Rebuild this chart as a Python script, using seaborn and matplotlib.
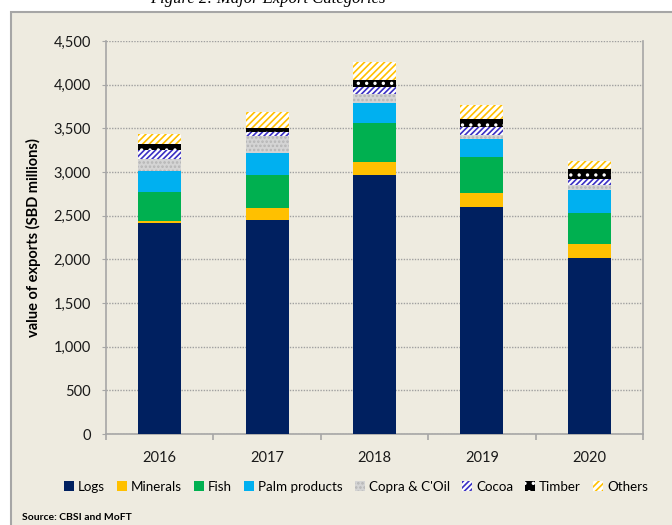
import matplotlib
matplotlib.use("Agg")
import matplotlib.pyplot as plt
from matplotlib.patches import Patch, Rectangle
from matplotlib.ticker import FuncFormatter, MultipleLocator, FixedLocator
import seaborn as sns
import pandas as pd
import numpy as np

years = ["2016", "2017", "2018", "2019", "2020"]
categories = ["Logs", "Minerals", "Fish", "Palm products", "Copra & C'Oil", "Cocoa", "Timber", "Others"]
logs = [2415, 2450, 2960, 2600, 2020]
minerals = [25, 140, 155, 165, 155]
fish = [330, 380, 445, 410, 360]
palm = [240, 250, 235, 200, 260]
copra = [140, 190, 100, 50, 60]
cocoa = [100, 50, 75, 95, 65]
timber = [70, 45, 85, 90, 115]
others = [120, 180, 210, 155, 90]

series = [logs, minerals, fish, palm, copra, cocoa, timber, others]

styles = {
    "Logs": dict(facecolor="#002060", edgecolor="#002060", hatch=None),
    "Minerals": dict(facecolor="#FFC000", edgecolor="#FFC000", hatch=None),
    "Fish": dict(facecolor="#00B050", edgecolor="#00B050", hatch=None),
    "Palm products": dict(facecolor="#00B0F0", edgecolor="#00B0F0", hatch=None),
    "Copra & C'Oil": dict(facecolor="#D4D4D4", edgecolor="#B5B5B5", hatch="...."),
    "Cocoa": dict(facecolor="white", edgecolor="#3A2FC4", hatch="//////"),
    "Timber": dict(facecolor="black", edgecolor="white", hatch=".."),
    "Others": dict(facecolor="white", edgecolor="#FFC000", hatch="/////"),
}

plt.rcParams["font.family"] = ["Lato", "DejaVu Sans"]
plt.rcParams["hatch.linewidth"] = 1.2

bg = "#EEEBE0"
fig = plt.figure(figsize=(6.72, 5.25), dpi=100, facecolor="white")
frame = Rectangle((11 / 672, -0.1), 1.2, 1 - 12 / 525 + 0.1,
                  transform=fig.transFigure, facecolor=bg,
                  edgecolor="#A6A6A6", linewidth=1.5, zorder=-10)
fig.patches.append(frame)
ax = fig.add_axes([106 / 672, 1 - 434 / 525, (643 - 106) / 672, (434 - 41) / 525])
ax.set_facecolor(bg)
ax.set_zorder(1)

cum = np.cumsum(np.array(series), axis=0)
for i in range(len(categories) - 1, -1, -1):
    cat = categories[i]
    st = styles[cat]
    df = pd.DataFrame({"year": years, "value": cum[i]})
    kw = dict(edgecolor=st["edgecolor"], linewidth=0)
    if st["hatch"]:
        kw["hatch"] = st["hatch"]
    sns.barplot(data=df, x="year", y="value", order=years, color=st["facecolor"],
                saturation=1, width=0.4, ax=ax, errorbar=None, zorder=3, **kw)

ax.set_ylim(0, 4500)
ax.set_xlim(-0.5, 4.5)
ax.yaxis.set_major_locator(MultipleLocator(500))
ax.yaxis.set_major_formatter(FuncFormatter(lambda v, p: f"{int(v):,}"))
ax.grid(axis="y", color="#A0A0A0", linestyle=(0, (1, 1)), linewidth=1, zorder=1)
ax.grid(axis="x", visible=False)
ax.set_axisbelow(True)

for s in ["left", "bottom", "right"]:
    ax.spines[s].set_color("#A6A6A6")
    ax.spines[s].set_linewidth(1.2)
ax.spines["top"].set_visible(False)

ax.tick_params(axis="y", length=3, color="#A6A6A6", labelsize=10.5, pad=8, labelcolor="#1a1a1a")
ax.tick_params(axis="x", which="major", length=0, labelsize=10.5, pad=12, labelcolor="#1a1a1a")
ax.xaxis.set_minor_locator(FixedLocator([-0.5, 0.5, 1.5, 2.5, 3.5, 4.5]))
ax.tick_params(axis="x", which="minor", length=4, color="#A6A6A6", width=1.2)

ax.set_xlabel("")
ax.set_ylabel("value of exports (SBD millions)", fontsize=10.5, fontweight="bold", labelpad=9)

handles = [Patch(facecolor=styles[c]["facecolor"], edgecolor=styles[c]["edgecolor"],
                 hatch=styles[c]["hatch"], linewidth=0) for c in categories]
fig.legend(handles, categories, loc="center", bbox_to_anchor=(356 / 672, 1 - 487 / 525),
           ncol=8, frameon=False, fontsize=9.6, handlelength=0.75, handleheight=0.75,
           handletextpad=0.3, columnspacing=0.9)

fig.text(22 / 672, 1 - 517 / 525, "Source: CBSI and MoFT", fontsize=7.5, fontweight="bold",
         va="center", ha="left")
fig.text(268 / 672, 1 - 3 / 525, "Figure 2: Major Export Categories", fontsize=12,
         style="italic", family=["Liberation Serif", "DejaVu Serif"], ha="center", va="baseline")

fig.savefig("out.png", dpi=100, facecolor="white")
